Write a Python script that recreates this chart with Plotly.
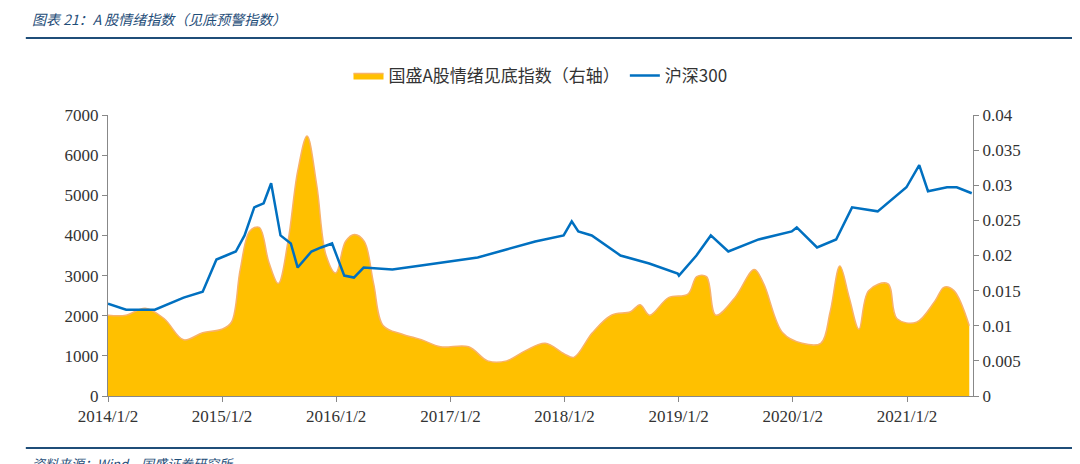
import plotly.graph_objects as go

hs_dates = ["2014-01-02","2014-03-01","2014-06-01","2014-09-01","2014-11-01","2014-12-15","2015-01-15","2015-02-15","2015-03-15","2015-04-15","2015-05-15","2015-06-08","2015-07-08","2015-08-10","2015-09-01","2015-10-15","2015-11-15","2015-12-20","2016-01-28","2016-02-28","2016-03-30","2016-06-30","2016-09-30","2016-12-30","2017-03-30","2017-06-30","2017-09-30","2017-12-30","2018-01-25","2018-02-15","2018-03-30","2018-06-30","2018-09-30","2018-12-30","2019-01-03","2019-02-28","2019-04-15","2019-06-10","2019-09-15","2019-12-30","2020-01-15","2020-03-20","2020-05-20","2020-07-10","2020-09-30","2020-12-31","2021-02-10","2021-03-10","2021-05-10","2021-06-10","2021-07-28"]
hs_vals = [2300,2150,2150,2450,2600,3400,3500,3600,4000,4700,4800,5300,4000,3800,3200,3600,3700,3800,3000,2950,3200,3150,3250,3350,3450,3650,3850,4000,4350,4100,4000,3500,3300,3050,3000,3500,4000,3600,3900,4100,4200,3700,3900,4700,4600,5200,5750,5100,5200,5200,5050]

ix_dates = ["2014-01-02","2014-03-01","2014-05-01","2014-07-01","2014-09-01","2014-11-01","2015-01-01","2015-02-01","2015-03-01","2015-04-01","2015-05-01","2015-06-01","2015-07-01","2015-08-01","2015-09-01","2015-10-01","2015-11-01","2015-12-01","2016-01-01","2016-02-01","2016-03-01","2016-04-01","2016-05-01","2016-06-01","2016-08-01","2016-10-01","2016-12-01","2017-03-01","2017-05-01","2017-07-01","2017-09-01","2017-11-01","2018-01-01","2018-02-01","2018-04-01","2018-06-01","2018-08-01","2018-09-01","2018-10-01","2018-12-01","2019-02-01","2019-03-01","2019-04-01","2019-05-01","2019-07-01","2019-09-01","2019-10-01","2019-12-01","2020-02-01","2020-04-01","2020-05-01","2020-06-01","2020-07-01","2020-08-01","2020-09-01","2020-11-01","2020-12-01","2021-02-01","2021-04-01","2021-05-01","2021-06-01","2021-07-20"]
ix_vals = [0.0115,0.0115,0.0125,0.011,0.008,0.009,0.0095,0.0105,0.018,0.0235,0.024,0.019,0.016,0.022,0.032,0.037,0.030,0.020,0.0175,0.022,0.023,0.022,0.016,0.010,0.0088,0.008,0.007,0.007,0.005,0.005,0.0065,0.0075,0.006,0.0055,0.009,0.0115,0.012,0.013,0.0115,0.014,0.0145,0.017,0.017,0.0115,0.014,0.018,0.016,0.009,0.0075,0.0075,0.012,0.0185,0.014,0.0095,0.015,0.016,0.011,0.0105,0.0135,0.0155,0.015,0.010]

tick_vals = ["2014-01-02","2015-01-02","2016-01-02","2017-01-02","2018-01-02","2019-01-02","2020-01-02","2021-01-02"]
tick_text = ["2014/1/2","2015/1/2","2016/1/2","2017/1/2","2018/1/2","2019/1/2","2020/1/2","2021/1/2"]

font = "Liberation Serif, Noto Sans CJK SC"
fig = go.Figure()
fig.add_trace(go.Scatter(x=ix_dates, y=ix_vals, name="国盛A股情绪见底指数（右轴）", yaxis="y",
                         fill="tozeroy", fillcolor="#FFC000", line=dict(color="#F8B26A", width=1.5, shape="spline")))
fig.add_trace(go.Scatter(x=hs_dates, y=hs_vals, name="沪深300", yaxis="y2", line=dict(color="#0070C0", width=2.5)))
axis_common = dict(showgrid=False, showline=True, linecolor="#888", ticks="outside", tickcolor="#888")
fig.update_layout(
    width=1080, height=464, paper_bgcolor="white", plot_bgcolor="white",
    margin=dict(l=100, r=115, t=107, b=76),
    font=dict(family=font, size=17, color="#333"),
    legend=dict(orientation="h", x=0.5, xanchor="center", y=1.139, yanchor="middle",
                font=dict(family="Noto Sans CJK SC", size=17)),
    xaxis=dict(range=["2014-01-02","2021-08-01"], tickvals=tick_vals, ticktext=tick_text, **axis_common),
    yaxis=dict(range=[0,0.04], dtick=0.005, side="right", tickformat=".3~f", **axis_common),
    yaxis2=dict(range=[0,7000], dtick=1000, overlaying="y", side="left", **axis_common),
)
fig.add_annotation(text="<i>图表 21：A 股情绪指数（见底预警指数）</i>", xref="paper", yref="paper", x=-0.09, y=1.30,
                   xanchor="left", yanchor="bottom", showarrow=False, font=dict(size=14, color="#1F4E79", family="Noto Sans CJK SC"))
fig.add_annotation(text="<i>资料来源：Wind，国盛证券研究所</i>", xref="paper", yref="paper", x=-0.09, y=-0.20,
                   xanchor="left", yanchor="top", showarrow=False, font=dict(size=13, color="#1F4E79", family="Noto Sans CJK SC"))
fig.add_shape(type="line", xref="paper", yref="paper", x0=-0.095, x1=1.14, y0=1.274, y1=1.274, line=dict(color="#1F4E79", width=2))
fig.add_shape(type="line", xref="paper", yref="paper", x0=-0.095, x1=1.14, y0=-0.185, y1=-0.185, line=dict(color="#1F4E79", width=2))
fig.write_html("out.html")
